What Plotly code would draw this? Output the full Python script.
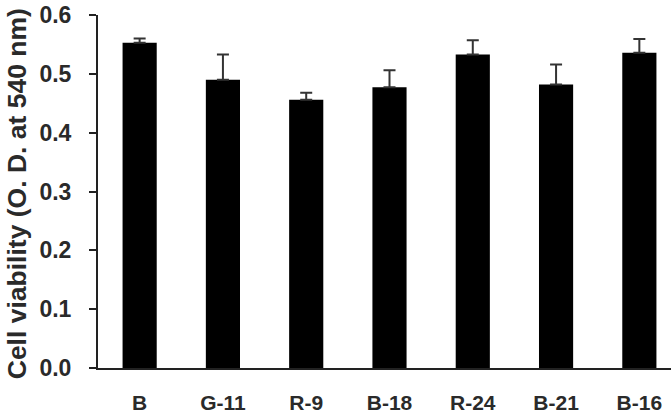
import plotly.graph_objects as go

categories = ["B", "G-11", "R-9", "B-18", "R-24", "B-21", "B-16"]
values = [0.553, 0.490, 0.456, 0.477, 0.533, 0.482, 0.536]
errors = [0.007, 0.043, 0.012, 0.029, 0.024, 0.034, 0.023]
y_ticks = [0.0, 0.1, 0.2, 0.3, 0.4, 0.5, 0.6]
y_title = "Cell viability (O. D. at 540 nm)"

FONT = "Liberation Sans, Arial, sans-serif"

fig = go.Figure()
fig.add_trace(go.Bar(
    x=list(range(len(categories))),
    y=values,
    width=0.41,
    marker=dict(color="black", line=dict(width=0)),
    error_y=dict(type="data", array=errors, symmetric=False, arrayminus=[0]*len(errors),
                 color="#333333", thickness=2, width=6),
))

fig.update_layout(
    width=671, height=414,
    margin=dict(l=98, r=0, t=15, b=43),
    paper_bgcolor="white", plot_bgcolor="white",
    showlegend=False,
    xaxis=dict(
        range=[-0.5, 6.38],
        tickmode="array",
        tickvals=list(range(len(categories))),
        ticktext=[f"<b>{c}</b>" for c in categories],
        showline=True, linecolor="#222222", linewidth=2,
        ticks="", showgrid=False, zeroline=False,
        tickfont=dict(family=FONT, size=21, color="#2a2a2a"),
        ticklabelstandoff=15,
    ),
    yaxis=dict(
        range=[0, 0.6],
        tickmode="array",
        tickvals=y_ticks,
        ticktext=[f"<b>{v:.1f}</b>" for v in y_ticks],
        showline=True, linecolor="#222222", linewidth=2,
        ticks="outside", ticklen=7, tickwidth=2, tickcolor="#222222",
        showgrid=False, zeroline=False,
        tickfont=dict(family=FONT, size=23, color="#2a2a2a"),
        ticklabelstandoff=13,
    ),
    annotations=[dict(
        text=f"<b>{y_title}</b>", textangle=-90,
        xref="paper", yref="paper", x=-0.142, y=0.494,
        xanchor="center", yanchor="middle", showarrow=False,
        font=dict(family=FONT, size=26.5, color="#2a2a2a"),
    )],
)

fig.write_html("out.html")
